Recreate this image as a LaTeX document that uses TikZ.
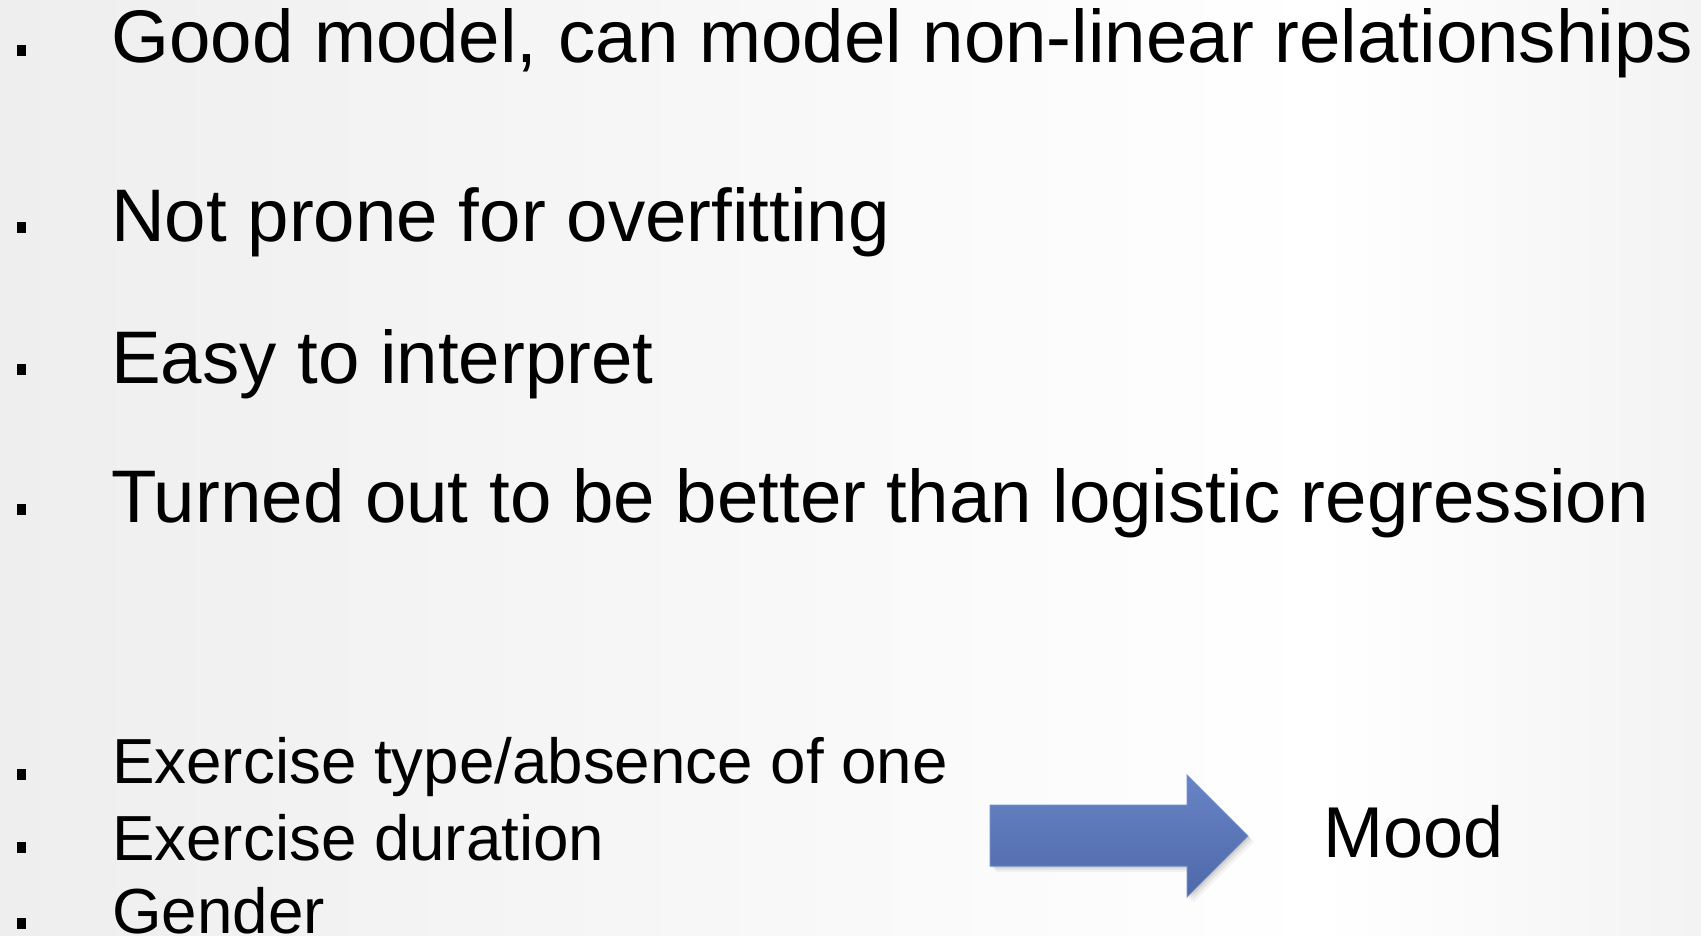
\documentclass[tikz,border=0pt]{standalone}
\usepackage{fontspec}
\setmainfont{Liberation Sans}
\definecolor{bgleft}{RGB}{238,238,238}
\definecolor{bgright}{RGB}{243,243,243}
\definecolor{arrowtop}{RGB}{104,132,198}
\definecolor{arrowbot}{RGB}{78,104,168}
\definecolor{arrowedge}{RGB}{112,140,202}
\begin{document}
\begin{tikzpicture}[x=1pt,y=-1pt,
  big/.style={anchor=base west,inner sep=0pt,font=\fontsize{74.5}{88}\selectfont},
  small/.style={anchor=base west,inner sep=0pt,font=\fontsize{63.7}{77}\selectfont},
  moodtext/.style={anchor=base west,inner sep=0pt,font=\fontsize{72}{86}\selectfont},
  bul/.style={fill=black,minimum width=9pt,minimum height=11pt,inner sep=0pt,draw=none},
  blockarrow/.style={top color=arrowtop,bottom color=arrowbot,draw=arrowedge,line width=1pt,line join=miter}]
\useasboundingbox (0,0) rectangle (1701,936);
\shade[left color=bgleft,right color=white] (0,0) rectangle (1320,936);
\shade[left color=white,right color=bgright] (1320,0) rectangle (1701,936);

% upper list
\node[bul] (b1) at (21.5,51) {};
\node[big] (t1) at (111,63) {Good model, can model non-linear relationships};
\node[bul] (b2) at (21.5,228) {};
\node[big] (t2) at (111,242) {Not prone for overfitting};
\node[bul] (b3) at (21.5,369) {};
\node[big] (t3) at (111,383) {Easy to interpret};
\node[bul] (b4) at (21.5,509) {};
\node[big] (t4) at (111,522) {Turned out to be better than logistic regression};

% lower list
\node[bul] (c1) at (21,774) {};
\node[small] (s1) at (112,783) {Exercise type/absence of one};
\node[bul] (c2) at (21,847) {};
\node[small] (s2) at (112,860) {Exercise duration};
\node[bul] (c3) at (21,923) {};
\node[small] (s3) at (112,933) {Gender};

% block arrow with soft shadow
\foreach \d/\o in {6/0.04,4/0.06,2/0.08}{
  \fill[black,opacity=\o] (990+\d,805+\d) -- (1187+\d,805+\d) -- (1187+\d,775+\d) -- (1248+\d,836+\d) -- (1187+\d,897+\d) -- (1187+\d,866+\d) -- (990+\d,866+\d) -- cycle;
}
\shade[blockarrow] (990,805) -- (1187,805) -- (1187,775) -- (1248,836) -- (1187,897) -- (1187,866) -- (990,866) -- cycle;

\node[moodtext] (mood) at (1323,857) {Mood};
\end{tikzpicture}
\end{document}
